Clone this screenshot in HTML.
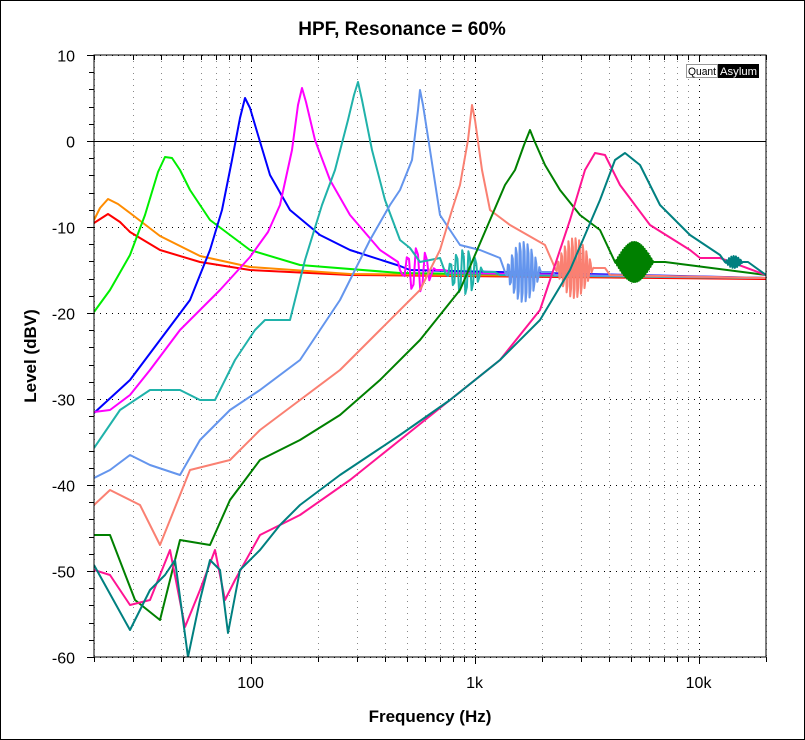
<!DOCTYPE html>
<html><head><meta charset="utf-8"><style>
html,body{margin:0;padding:0;background:#fff;}
body{width:805px;height:740px;overflow:hidden;font-family:"Liberation Sans",sans-serif;}
</style></head><body>
<svg id="s" width="805" height="740" xmlns="http://www.w3.org/2000/svg" style="position:absolute;left:0;top:0">
<rect x="0.5" y="0.5" width="804" height="739" fill="#fff" stroke="#000"/>
<text x="402" y="35" font-size="19" font-weight="bold" text-anchor="middle" font-family="Liberation Sans">HPF, Resonance = 60%</text>
<text x="430" y="722" font-size="17" font-weight="bold" text-anchor="middle" font-family="Liberation Sans">Frequency (Hz)</text>
<text transform="translate(36,356) rotate(-90)" font-size="17" font-weight="bold" text-anchor="middle" font-family="Liberation Sans">Level (dBV)</text>
<g id="grid"></g>
<g id="curves"></g>
<rect x="94" y="55" width="672" height="602" fill="none" stroke="#000" stroke-width="1"/>
<rect x="686.5" y="64.5" width="31" height="13" fill="#fff" stroke="#999"/>
<text x="688" y="75" font-size="11" font-family="Liberation Sans" textLength="28" lengthAdjust="spacingAndGlyphs">Quant</text>
<rect x="718" y="64" width="41" height="14" fill="#000"/>
<text x="720" y="75" font-size="11" fill="#fff" font-family="Liberation Sans" textLength="37" lengthAdjust="spacingAndGlyphs">Asylum</text>
</svg>
<script>
const NS="http://www.w3.org/2000/svg";
const g=document.getElementById('grid'),c=document.getElementById('curves');
function el(p,t,a){const e=document.createElementNS(NS,t);for(const k in a)e.setAttribute(k,a[k]);p.appendChild(e);return e;}
const X=f=>94+(Math.log10(f)-Math.log10(20))*224;
const Y=d=>55+(10-d)*8.6;
for(let dec=10;dec<=10000;dec*=10){for(let m=1;m<10;m++){const f=dec*m;if(f<20||f>20000)continue;const x=Math.round(X(f))+0.5;const maj=(m==1);
 el(g,'line',{x1:x,y1:55,x2:x,y2:657,stroke:maj?'#000':'#888','stroke-dasharray':'1,5'});
 el(g,'line',{x1:x,y1:657,x2:x,y2:maj?664:662,stroke:'#000'});
 el(g,'line',{x1:x,y1:55,x2:x,y2:maj?62:60,stroke:'#000'});}}
[[100,'100'],[1000,'1k'],[10000,'10k']].forEach(([f,t])=>el(g,'text',{x:X(f),y:688,'font-size':16,'text-anchor':'middle','font-family':'Liberation Sans'}).textContent=t);
for(let d=-60;d<=10;d+=2){const y=Math.round(Y(d))+0.5;const maj=(d%10==0);
 el(g,'line',{x1:maj?87:89,y1:y,x2:94,y2:y,stroke:'#000'});
 if(maj){ if(d==0)el(g,'line',{x1:94,y1:y,x2:766,y2:y,stroke:'#000'});
  else el(g,'line',{x1:94,y1:y,x2:766,y2:y,stroke:'#000','stroke-dasharray':'1,5'});
  el(g,'text',{x:75,y:y+6,'font-size':16,'text-anchor':'end','font-family':'Liberation Sans'}).textContent=d;}}
function path(pts,col,w){el(c,'polyline',{points:pts.map(p=>p[0].toFixed(1)+','+p[1].toFixed(1)).join(' '),fill:'none',stroke:col,'stroke-width':w||2,'stroke-linejoin':'round'});}
function ring(x0,x1,cy,amp,cyc){const out=[];for(let i=0;i<=cyc*4;i++){const t=i/(cyc*4);const x=x0+(x1-x0)*t;const env=Math.sin(Math.PI*Math.min(1,t*1.3))*amp;out.push([x,cy+env*(i%2?1:-0.7)*(i%4<2?1:-1)]);}return out;}
function build(a,rings){let pts=a.slice();(rings||[]).forEach(r=>{const [x0,x1,cy,amp,n]=r;pts=pts.filter(p=>p[0]<x0||p[0]>x1);pts=pts.concat(ring(x0,x1,cy,amp,n));});pts.sort((p,q)=>p[0]-q[0]);return pts;}
const C=[
['#ff0000',[[94,223],[108,214],[120,222],[130,232],[160,250],[200,262],[250,270],[350,275],[766,279]]],
['#ff8c00',[[94,220],[100,208],[108,199],[118,204],[130,213],[160,236],[200,256],[250,267],[350,274],[766,278]]],
['#00ee00',[[94,312],[110,290],[130,255],[145,215],[158,172],[165,157],[172,158],[180,170],[190,190],[210,220],[250,250],[300,265],[400,273],[766,278]]],
['#0000ff',[[94,413],[130,380],[160,340],[190,300],[210,250],[222,210],[232,160],[240,118],[245,98],[250,108],[258,135],[270,175],[290,210],[320,235],[350,250],[400,266],[410,270],[766,278]]],
['#ff00ff',[[94,412],[110,410],[130,395],[150,370],[180,330],[220,290],[250,257],[268,232],[280,205],[292,150],[298,105],[302,88],[306,102],[315,140],[330,180],[350,215],[380,250],[398,262],[450,273],[766,278]],[[400,445,270,22,5]]],
['#20b2aa',[[94,448],[120,410],[150,390],[180,390],[200,400],[215,400],[235,360],[255,330],[265,320],[290,320],[305,260],[322,205],[335,170],[348,120],[354,95],[358,82],[362,100],[372,150],[385,200],[400,240],[410,248],[420,262],[440,258],[500,275],[766,278]],[[445,495,272,22,8]]],
['#6495ed',[[94,478],[110,470],[130,455],[150,465],[180,475],[200,440],[230,410],[260,390],[300,360],[340,300],[370,240],[390,205],[400,190],[412,160],[418,110],[420,90],[423,105],[430,150],[440,215],[460,245],[480,250],[500,258],[555,275],[766,278]],[[505,552,272,30,12]]],
['#fa8072',[[94,505],[110,490],[140,505],[160,545],[190,470],[230,460],[260,430],[300,400],[340,370],[380,330],[420,290],[440,250],[452,210],[460,185],[468,140],[472,105],[475,120],[482,170],[490,210],[510,225],[545,245],[610,275],[766,278]],[[555,605,268,30,14]]],
['#008000',[[94,535],[110,535],[135,600],[160,620],[180,540],[210,545],[230,500],[260,460],[300,440],[340,415],[380,380],[420,340],[460,290],[490,220],[505,185],[515,170],[524,145],[530,130],[534,140],[545,165],[560,190],[580,215],[600,230],[615,240],[660,262],[766,275]],[[615,665,262,20,30]]],
['#ff1493',[[94,570],[110,575],[130,605],[150,600],[170,550],[185,627],[200,590],[215,550],[225,600],[235,580],[260,535],[300,515],[350,480],[400,440],[450,400],[500,360],[540,310],[570,220],[585,170],[595,153],[605,155],[620,185],[650,225],[690,250],[700,258],[720,258],[766,275]]],
['#008080',[[94,565],[130,630],[150,590],[165,575],[175,560],[188,657],[200,600],[210,560],[220,570],[228,633],[240,570],[260,550],[280,525],[300,505],[340,475],[400,435],[450,400],[500,360],[540,320],[570,270],[600,200],[615,160],[625,153],[640,165],[660,205],[690,235],[720,255],[745,265],[766,275]],[[725,748,262,6,10]]]
];
el(c,'clipPath',{id:'cp'});
c.setAttribute('clip-path','url(#cp)');
el(c.firstChild,'rect',{x:94,y:55,width:672,height:602});
C.forEach(([col,p,r])=>path(build(p,r),col,2));
</script>
</body></html>
